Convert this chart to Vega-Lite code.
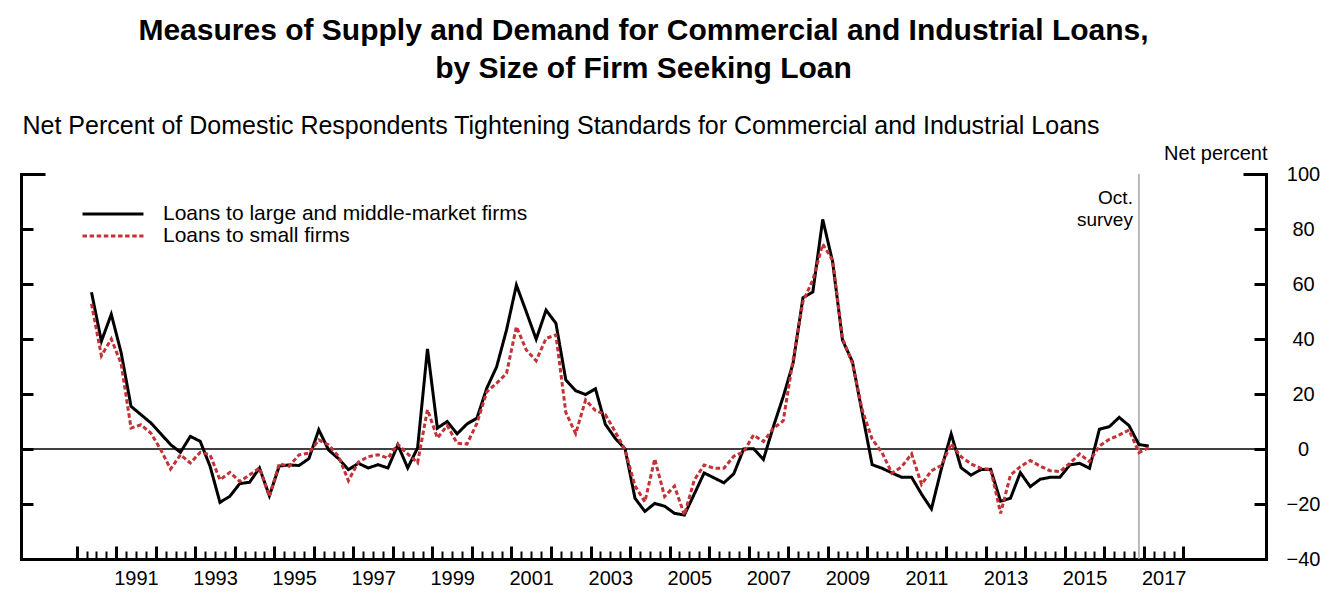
{
  "$schema": "https://vega.github.io/schema/vega-lite/v6.json",
  "width": 1245,
  "height": 385,
  "autosize": {"type": "none"},
  "padding": {"left": 21, "top": 174, "right": 68, "bottom": 43},
  "background": "white",
  "title": {
    "text": ["Measures of Supply and Demand for Commercial and Industrial Loans,", "by Size of Firm Seeking Loan"],
    "anchor": "middle",
    "frame": "group",
    "fontSize": 30,
    "fontWeight": "bold",
    "lineHeight": 38,
    "baseline": "bottom",
    "offset": -1,
    "color": "black",
    "font": "Liberation Sans"
  },
  "config": {
    "font": "Liberation Sans",
    "view": {"stroke": null},
    "axis": {"domainColor": "black", "tickColor": "black", "labelColor": "black", "titleColor": "black", "grid": false, "labelFont": "Liberation Sans", "titleFont": "Liberation Sans"}
  },
  "resolve": {"axis": {"x": "independent", "y": "independent"}},
  "layer": [
    {
      "data": {"values": [{"level": 0}]},
      "mark": {"type": "rule", "color": "black", "strokeWidth": 1.3},
      "encoding": {
        "y": {
          "field": "level",
          "type": "quantitative",
          "scale": {"domain": [-40, 100], "nice": false, "zero": false},
          "axis": {
            "orient": "right",
            "values": [-20, 0, 20, 40, 60, 80, 100],
            "labels": false,
            "domainWidth": 3,
            "domainCap": "square",
            "tickWidth": 3,
            "tickSize": {"condition": {"test": "datum.value === 100", "value": -23}, "value": -12},
            "title": null
          }
        }
      }
    },
    {
      "data": {"values": [{"survey": 2016.875}]},
      "mark": {"type": "rule", "color": "#a3a3a3", "strokeWidth": 1.5},
      "encoding": {
        "x": {
          "field": "survey",
          "type": "quantitative",
          "scale": {"domain": [1988.591, 2020.09], "nice": false, "zero": false},
          "axis": {
            "orient": "bottom",
            "values": [1991.5, 1993.5, 1995.5, 1997.5, 1999.5, 2001.5, 2003.5, 2005.5, 2007.5, 2009.5, 2011.5, 2013.5, 2015.5, 2017.5],
            "labelExpr": "'' + floor(datum.value)",
            "ticks": false,
            "tickSize": 0,
            "domain": false,
            "labelPadding": 9,
            "labelFontSize": 20,
            "labelFlush": false,
            "labelOverlap": false,
            "labelBound": false,
            "title": null
          }
        }
      }
    },
    {
      "data": {"values": [{"survey": 2016.875, "top": 100, "note": "Oct."}, {"survey": 2016.875, "top": 92, "note": "survey"}]},
      "mark": {"type": "text", "align": "right", "baseline": "middle", "dx": -6, "fontSize": 19, "color": "black"},
      "encoding": {
        "x": {"field": "survey", "type": "quantitative", "scale": {"domain": [1988.591, 2020.09], "nice": false, "zero": false}, "axis": null},
        "y": {
          "field": "top",
          "type": "quantitative",
          "scale": {"domain": [-40, 100], "nice": false, "zero": false},
          "axis": {
            "orient": "right",
            "values": [-40, -20, 0, 20, 40, 60, 80, 100],
            "ticks": false,
            "tickSize": 0,
            "domain": false,
            "labelPadding": 37,
            "labelAlign": "center",
            "labelBaseline": "middle",
            "labelFontSize": 20,
            "labelFlush": false,
            "labelOverlap": false,
            "labelBound": false,
            "title": "Net percent",
            "titleAngle": 0,
            "titleAlign": "right",
            "titleBaseline": "alphabetic",
            "titleX": 1,
            "titleY": -15,
            "titleFontSize": 20,
            "titleFontWeight": "normal"
          }
        },
        "text": {"field": "note", "type": "nominal"},
        "yOffset": {"value": 24}
      }
    },
    {
      "data": {"values": [
        {"year": 1990.375, "large": 57.0, "small": 52.8},
        {"year": 1990.625, "large": 39.2, "small": 33.9},
        {"year": 1990.875, "large": 49.0, "small": 40.0},
        {"year": 1991.125, "large": 35.0, "small": 31.0},
        {"year": 1991.375, "large": 15.5, "small": 7.6},
        {"year": 1991.625, "large": 12.5, "small": 8.8},
        {"year": 1991.875, "large": 9.5, "small": 5.8},
        {"year": 1992.125, "large": 5.6, "small": -0.2},
        {"year": 1992.375, "large": 1.6, "small": -7.3},
        {"year": 1992.625, "large": -1.2, "small": -2.1},
        {"year": 1992.875, "large": 4.6, "small": -5.1},
        {"year": 1993.125, "large": 2.8, "small": -1.2},
        {"year": 1993.375, "large": -6.3, "small": -2.1},
        {"year": 1993.625, "large": -19.4, "small": -11.2},
        {"year": 1993.875, "large": -17.2, "small": -8.5},
        {"year": 1994.125, "large": -12.6, "small": -11.8},
        {"year": 1994.375, "large": -12.1, "small": -9.4},
        {"year": 1994.625, "large": -6.9, "small": -6.9},
        {"year": 1994.875, "large": -17.0, "small": -17.2},
        {"year": 1995.125, "large": -6.2, "small": -5.4},
        {"year": 1995.375, "large": -5.8, "small": -6.3},
        {"year": 1995.625, "large": -6.0, "small": -2.1},
        {"year": 1995.875, "large": -3.5, "small": -1.5},
        {"year": 1996.125, "large": 7.0, "small": 3.3},
        {"year": 1996.375, "large": -0.4, "small": 1.5},
        {"year": 1996.625, "large": -3.5, "small": -2.7},
        {"year": 1996.875, "large": -7.5, "small": -11.5},
        {"year": 1997.125, "large": -5.2, "small": -4.8},
        {"year": 1997.375, "large": -6.9, "small": -2.8},
        {"year": 1997.625, "large": -5.7, "small": -2.1},
        {"year": 1997.875, "large": -6.9, "small": -3.3},
        {"year": 1998.125, "large": 1.5, "small": 1.7},
        {"year": 1998.375, "large": -6.9, "small": -1.8},
        {"year": 1998.625, "large": 0.4, "small": -5.0},
        {"year": 1998.875, "large": 36.4, "small": 14.3},
        {"year": 1999.125, "large": 7.6, "small": 4.0},
        {"year": 1999.375, "large": 10.0, "small": 8.5},
        {"year": 1999.625, "large": 5.5, "small": 2.1},
        {"year": 1999.875, "large": 9.1, "small": 1.8},
        {"year": 2000.125, "large": 11.2, "small": 9.3},
        {"year": 2000.375, "large": 22.1, "small": 20.8},
        {"year": 2000.625, "large": 29.9, "small": 23.9},
        {"year": 2000.875, "large": 43.3, "small": 27.5},
        {"year": 2001.125, "large": 59.6, "small": 44.5},
        {"year": 2001.375, "large": 49.9, "small": 36.0},
        {"year": 2001.625, "large": 39.9, "small": 32.1},
        {"year": 2001.875, "large": 50.5, "small": 40.2},
        {"year": 2002.125, "large": 45.7, "small": 41.5},
        {"year": 2002.375, "large": 25.1, "small": 13.3},
        {"year": 2002.625, "large": 21.2, "small": 5.6},
        {"year": 2002.875, "large": 19.8, "small": 17.8},
        {"year": 2003.125, "large": 21.9, "small": 14.0},
        {"year": 2003.375, "large": 9.0, "small": 12.5},
        {"year": 2003.625, "large": 3.9, "small": 6.3},
        {"year": 2003.875, "large": 0.0, "small": -0.4},
        {"year": 2004.125, "large": -17.9, "small": -13.4},
        {"year": 2004.375, "large": -22.7, "small": -19.2},
        {"year": 2004.625, "large": -19.8, "small": -3.6},
        {"year": 2004.875, "large": -20.8, "small": -17.3},
        {"year": 2005.125, "large": -23.4, "small": -13.5},
        {"year": 2005.375, "large": -24.0, "small": -24.0},
        {"year": 2005.625, "large": -16.4, "small": -11.3},
        {"year": 2005.875, "large": -8.7, "small": -5.8},
        {"year": 2006.125, "large": -10.5, "small": -7.0},
        {"year": 2006.375, "large": -12.3, "small": -7.0},
        {"year": 2006.625, "large": -9.0, "small": -2.6},
        {"year": 2006.875, "large": 0.0, "small": -1.0},
        {"year": 2007.125, "large": 0.1, "small": 5.1},
        {"year": 2007.375, "large": -3.8, "small": 2.7},
        {"year": 2007.625, "large": 8.1, "small": 7.5},
        {"year": 2007.875, "large": 19.0, "small": 10.2},
        {"year": 2008.125, "large": 31.2, "small": 32.4},
        {"year": 2008.375, "large": 55.0, "small": 53.6},
        {"year": 2008.625, "large": 57.1, "small": 61.5},
        {"year": 2008.875, "large": 83.5, "small": 74.5},
        {"year": 2009.125, "large": 68.1, "small": 68.7},
        {"year": 2009.375, "large": 39.6, "small": 40.2},
        {"year": 2009.625, "large": 31.8, "small": 31.2},
        {"year": 2009.875, "large": 13.0, "small": 14.2},
        {"year": 2010.125, "large": -5.7, "small": 3.6},
        {"year": 2010.375, "large": -7.0, "small": -1.3},
        {"year": 2010.625, "large": -8.7, "small": -8.8},
        {"year": 2010.875, "large": -10.3, "small": -6.4},
        {"year": 2011.125, "large": -10.3, "small": -1.8},
        {"year": 2011.375, "large": -16.4, "small": -12.9},
        {"year": 2011.625, "large": -21.8, "small": -7.9},
        {"year": 2011.875, "large": -7.3, "small": -6.0},
        {"year": 2012.125, "large": 5.5, "small": 1.9},
        {"year": 2012.375, "large": -6.8, "small": -2.8},
        {"year": 2012.625, "large": -9.5, "small": -5.4},
        {"year": 2012.875, "large": -7.5, "small": -7.0},
        {"year": 2013.125, "large": -7.4, "small": -7.4},
        {"year": 2013.375, "large": -19.0, "small": -23.4},
        {"year": 2013.625, "large": -17.9, "small": -9.5},
        {"year": 2013.875, "large": -8.6, "small": -6.4},
        {"year": 2014.125, "large": -13.7, "small": -4.2},
        {"year": 2014.375, "large": -11.0, "small": -6.2},
        {"year": 2014.625, "large": -10.3, "small": -7.9},
        {"year": 2014.875, "large": -10.3, "small": -8.2},
        {"year": 2015.125, "large": -5.8, "small": -5.2},
        {"year": 2015.375, "large": -5.2, "small": -1.8},
        {"year": 2015.625, "large": -7.0, "small": -4.6},
        {"year": 2015.875, "large": 7.2, "small": 1.1},
        {"year": 2016.125, "large": 8.1, "small": 3.5},
        {"year": 2016.375, "large": 11.5, "small": 5.1},
        {"year": 2016.625, "large": 8.5, "small": 6.9},
        {"year": 2016.875, "large": 1.6, "small": -1.3},
        {"year": 2017.125, "large": 1.1, "small": 0.6}
      ]},
      "transform": [{"fold": ["large", "small"], "as": ["series", "value"]}],
      "mark": {"type": "line", "strokeWidth": 3},
      "encoding": {
        "x": {
          "field": "year",
          "type": "quantitative",
          "scale": {"domain": [1988.591, 2020.09], "nice": false, "zero": false},
          "axis": {
            "orient": "bottom",
            "values": [1990, 1990.25, 1990.5, 1990.75, 1991, 1991.25, 1991.5, 1991.75, 1992, 1992.25, 1992.5, 1992.75, 1993, 1993.25, 1993.5, 1993.75, 1994, 1994.25, 1994.5, 1994.75, 1995, 1995.25, 1995.5, 1995.75, 1996, 1996.25, 1996.5, 1996.75, 1997, 1997.25, 1997.5, 1997.75, 1998, 1998.25, 1998.5, 1998.75, 1999, 1999.25, 1999.5, 1999.75, 2000, 2000.25, 2000.5, 2000.75, 2001, 2001.25, 2001.5, 2001.75, 2002, 2002.25, 2002.5, 2002.75, 2003, 2003.25, 2003.5, 2003.75, 2004, 2004.25, 2004.5, 2004.75, 2005, 2005.25, 2005.5, 2005.75, 2006, 2006.25, 2006.5, 2006.75, 2007, 2007.25, 2007.5, 2007.75, 2008, 2008.25, 2008.5, 2008.75, 2009, 2009.25, 2009.5, 2009.75, 2010, 2010.25, 2010.5, 2010.75, 2011, 2011.25, 2011.5, 2011.75, 2012, 2012.25, 2012.5, 2012.75, 2013, 2013.25, 2013.5, 2013.75, 2014, 2014.25, 2014.5, 2014.75, 2015, 2015.25, 2015.5, 2015.75, 2016, 2016.25, 2016.5, 2016.75, 2017, 2017.25, 2017.5, 2017.75, 2018],
            "labels": false,
            "domainWidth": 3,
            "domainCap": "square",
            "tickSize": {"condition": {"test": "datum.value % 1 === 0", "value": -13}, "value": -8},
            "tickWidth": {"condition": {"test": "datum.value % 1 === 0", "value": 3}, "value": 2},
            "title": null
          }
        },
        "y": {
          "field": "value",
          "type": "quantitative",
          "scale": {"domain": [-40, 100], "nice": false, "zero": false},
          "axis": {
            "orient": "left",
            "values": [-20, 0, 20, 40, 60, 80, 100],
            "labels": false,
            "domainWidth": 3,
            "domainCap": "square",
            "tickWidth": 3,
            "tickSize": {"condition": {"test": "datum.value === 100", "value": -24}, "value": -12},
            "title": "Net Percent of Domestic Respondents Tightening Standards for Commercial and Industrial Loans",
            "titleAngle": 0,
            "titleAlign": "left",
            "titleBaseline": "alphabetic",
            "titleX": 1,
            "titleY": -41,
            "titleFontSize": 25,
            "titleFontWeight": "normal"
          }
        },
        "color": {
          "field": "series",
          "type": "nominal",
          "scale": {"domain": ["large", "small"], "range": ["#000000", "#c23237"]},
          "legend": {
            "orient": "none", "legendX": 80, "legendY": 28, "title": null, "padding": 0, "rowPadding": -4,
            "symbolType": "M-3,0H3", "symbolSize": 413, "symbolStrokeWidth": 3,
            "labelFontSize": 21, "labelOffset": 38, "labelColor": "black", "labelLimit": 600,
            "labelExpr": "datum.label === 'large' ? 'Loans to large and middle-market firms' : 'Loans to small firms'"
          }
        },
        "strokeDash": {
          "field": "series",
          "type": "nominal",
          "scale": {"domain": ["large", "small"], "range": [[1, 0], [4.5, 2.6]]},
          "legend": {
            "orient": "none", "legendX": 80, "legendY": 28, "title": null, "padding": 0, "rowPadding": -4,
            "symbolType": "M-3,0H3", "symbolSize": 413, "symbolStrokeWidth": 3,
            "labelFontSize": 21, "labelOffset": 38, "labelColor": "black", "labelLimit": 600,
            "labelExpr": "datum.label === 'large' ? 'Loans to large and middle-market firms' : 'Loans to small firms'"
          }
        }
      }
    }
  ]
}
